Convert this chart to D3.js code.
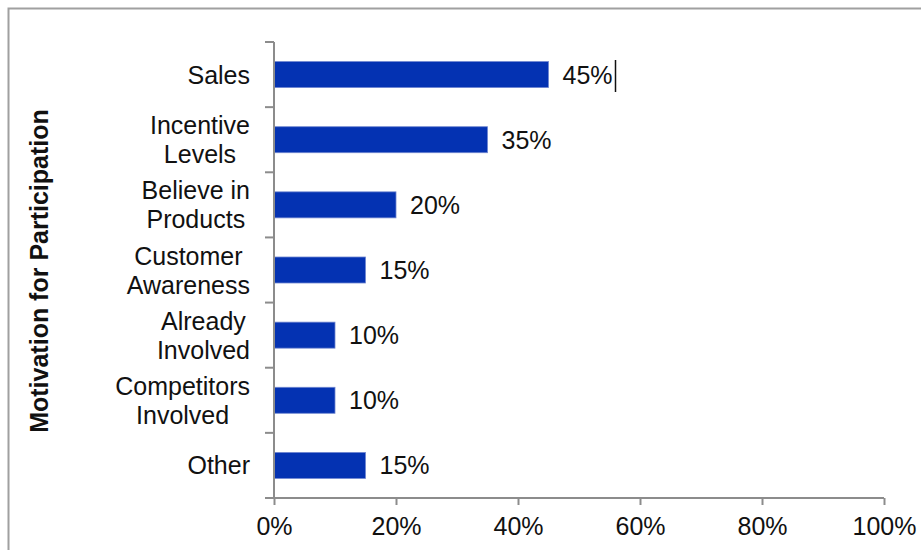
<!DOCTYPE html>
<html>
<head>
<meta charset="utf-8">
<script src="https://cdnjs.cloudflare.com/ajax/libs/d3/7.8.5/d3.min.js"></script>
<style>
  body { margin: 0; background: #fff; }
  svg { display: block; }
  text { font-family: "Liberation Sans", Arial, sans-serif; fill: #111; }
</style>
</head>
<body>
<script>
// chart data
var categories = [["Sales"], ["Incentive", "Levels"], ["Believe in", "Products"],
                  ["Customer", "Awareness"], ["Already", "Involved"],
                  ["Competitors", "Involved"], ["Other"]];
var values = [45, 35, 20, 15, 10, 10, 15];
var xTicks = [0, 20, 40, 60, 80, 100];
var axisTitle = "Motivation for Participation";

var width = 921, height = 550;
var fs = 25;

var svg = d3.select("body").append("svg")
    .attr("width", width)
    .attr("height", height);

// outer frame
svg.append("rect")
    .attr("x", 8.5).attr("y", 8.5)
    .attr("width", width + 10).attr("height", height + 10)
    .attr("fill", "none")
    .attr("stroke", "#a0a0a0")
    .attr("stroke-width", 2);

var x = d3.scaleLinear().domain([0, 100]).range([274, 884]);
var y = d3.scaleBand().domain(d3.range(categories.length)).range([42, 498]).paddingInner(0).paddingOuter(0);
var barH = 26;

// bars
svg.selectAll(".bar")
    .data(values)
    .enter().append("rect")
    .attr("class", "bar")
    .attr("x", x(0))
    .attr("y", function(d, i) { return y(i) + y.bandwidth() / 2 - barH / 2; })
    .attr("width", function(d) { return x(d) - x(0); })
    .attr("height", barH)
    .attr("fill", "#0432b2")
    .attr("stroke", "#6f86d0")
    .attr("stroke-width", 0.8);

// value labels
svg.selectAll(".val")
    .data(values)
    .enter().append("text")
    .attr("class", "val")
    .attr("x", function(d) { return x(d) + 14; })
    .attr("y", function(d, i) { return y(i) + y.bandwidth() / 2; })
    .attr("dy", "0.36em")
    .attr("font-size", fs)
    .text(function(d) { return d + "%"; });

// stray cursor mark after the first label
svg.append("line")
    .attr("x1", x(values[0]) + 67).attr("x2", x(values[0]) + 67)
    .attr("y1", y(0) + 18).attr("y2", y(0) + 50)
    .attr("stroke", "#111").attr("stroke-width", 1.5);

// x axis
var xAxis = d3.axisBottom(x)
    .tickValues(xTicks)
    .tickSize(7)
    .tickPadding(12)
    .tickFormat(function(d) { return d + "%"; });

var gx = svg.append("g")
    .attr("transform", "translate(0,498)")
    .call(xAxis);
gx.select(".domain").remove();
gx.append("line")
    .attr("x1", 265).attr("x2", x(100))
    .attr("stroke", "#8c8c8c").attr("stroke-width", 2);
gx.selectAll(".tick line").attr("stroke", "#8c8c8c").attr("stroke-width", 2);
gx.selectAll(".tick text").attr("font-size", fs).attr("fill", "#111")
    .style("font-family", "'Liberation Sans', Arial, sans-serif");

// y axis line and tick marks at band edges
var edges = d3.range(categories.length).map(function(i) { return y(i); });
svg.append("line")
    .attr("x1", x(0)).attr("x2", x(0))
    .attr("y1", 42).attr("y2", 498)
    .attr("stroke", "#8c8c8c").attr("stroke-width", 2);
svg.selectAll(".ytick")
    .data(edges)
    .enter().append("line")
    .attr("class", "ytick")
    .attr("x1", 265).attr("x2", x(0))
    .attr("y1", function(d) { return d; })
    .attr("y2", function(d) { return d; })
    .attr("stroke", "#8c8c8c").attr("stroke-width", 2);

// category labels: block right-aligned, lines centred
var lineH = 29;
categories.forEach(function(lines, i) {
    var cy = y(i) + y.bandwidth() / 2;
    var t = svg.append("text")
        .attr("font-size", fs)
        .attr("text-anchor", "middle");
    lines.forEach(function(l, j) {
        t.append("tspan")
            .attr("x", 0)
            .attr("y", cy + (j - (lines.length - 1) / 2) * lineH)
            .attr("dy", "0.36em")
            .text(l);
    });
    var w = t.node().getBBox().width;
    t.attr("transform", "translate(" + (250 - w / 2) + ",0)");
});

// axis title
svg.append("text")
    .attr("transform", "translate(48,271) rotate(-90)")
    .attr("text-anchor", "middle")
    .attr("font-size", 25)
    .attr("font-weight", "bold")
    .text(axisTitle);
</script>
</body>
</html>
